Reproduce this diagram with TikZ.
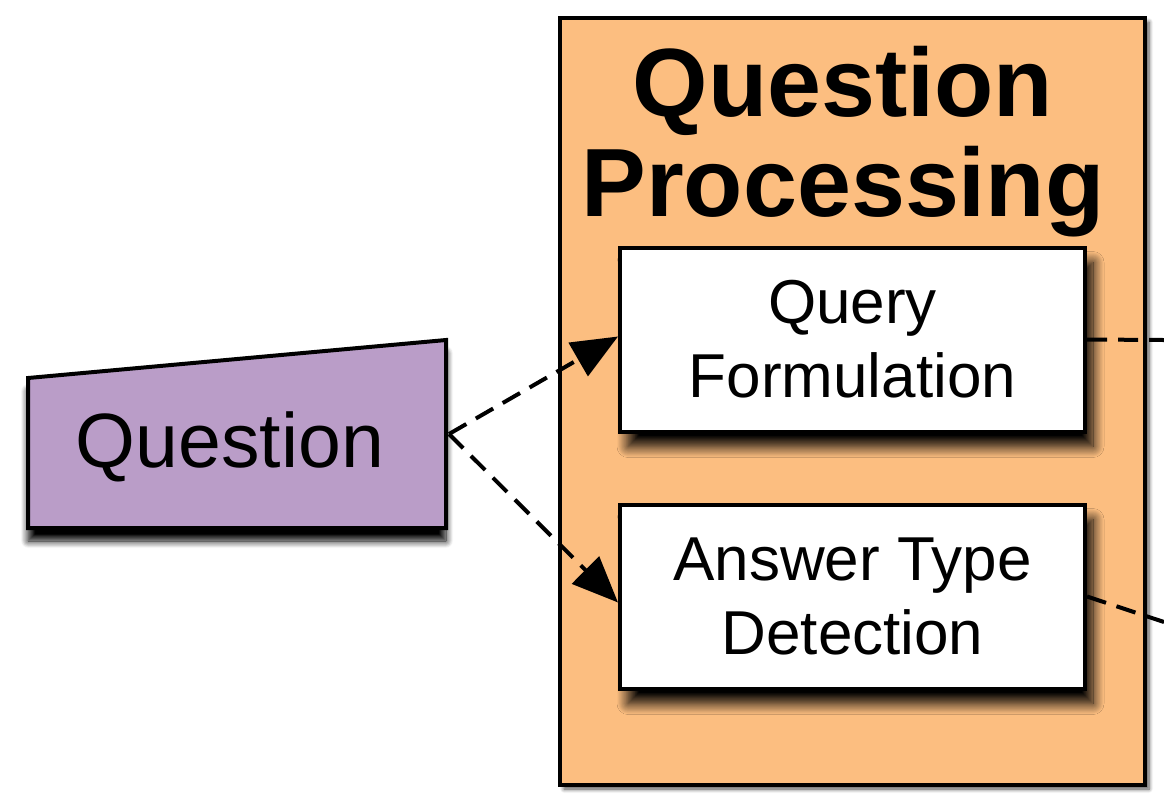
\documentclass[tikz,border=0pt]{standalone}
\usepackage{fontspec}
\setmainfont{Liberation Sans}
\usetikzlibrary{arrows.meta,shadows.blur}
\definecolor{qporange}{RGB}{252,190,128}
\definecolor{qpurple}{RGB}{186,157,200}
\begin{document}
\begin{tikzpicture}[x=1pt,y=-1pt,
  procbox/.style={draw=black, line width=4pt, fill=white, minimum width=465pt, minimum height=184pt,
    align=center, inner sep=0pt, font=\fontsize{62}{74}\selectfont,
    blur shadow={shadow xshift=8pt, shadow yshift=-15pt, shadow blur radius=11pt, shadow blur steps=16, shadow opacity=100}},
  flow/.style={draw=black, line width=4pt, dash pattern=on 20pt off 11pt,
    -{Triangle[length=46pt,width=38pt]}},
  link/.style={draw=black, line width=4pt, dash pattern=on 20pt off 11pt}]
\useasboundingbox (0,0) rectangle (1164,796);
% outer stage
\node[draw=black, line width=4pt, fill=qporange, minimum width=585pt, minimum height=767pt, inner sep=0pt,
  blur shadow={shadow xshift=4pt, shadow yshift=-4pt, shadow blur radius=4pt, shadow blur steps=6, shadow opacity=70}] (qp) at (852.5,401.5) {};
\node[font=\bfseries\fontsize{97}{100}\selectfont, align=center] (title) at (843,142) {Question\\Processing};
% inner boxes
\node[procbox] (qf) at (852.5,339.5) {\raisebox{2pt}{\parbox{465pt}{\centering Query\\Formulation}}};
\node[procbox] (at) at (852.5,596.5) {\raisebox{8pt}{\parbox{465pt}{\centering Answer Type\\Detection}}};
% question shape
\path[draw=black, line width=4pt, fill=qpurple, line join=miter,
  blur shadow={shadow xshift=0pt, shadow yshift=-13pt, shadow blur radius=7pt, shadow blur steps=10, shadow opacity=100}]
  (28,378) -- (446,340) -- (446,528) -- (28,528) -- cycle;
\node[font=\fontsize{77}{84}\selectfont, anchor=base] (q) at (230,467) {Question};
\coordinate (qs) at (449,434);
\coordinate (qfout) at (1164,340);
\coordinate (atout) at (1164,622);
% connectors
\begin{scope}[fill opacity=1, draw opacity=1, fill=black]
\draw[flow] (qs) -- ([yshift=3pt]qf.west);
\draw[flow] (qs) -- ([yshift=-6pt]at.west);
\draw[link] (qf.east) -- (qfout);
\draw[link] (at.east) -- (atout);
\end{scope}
\end{tikzpicture}
\end{document}
